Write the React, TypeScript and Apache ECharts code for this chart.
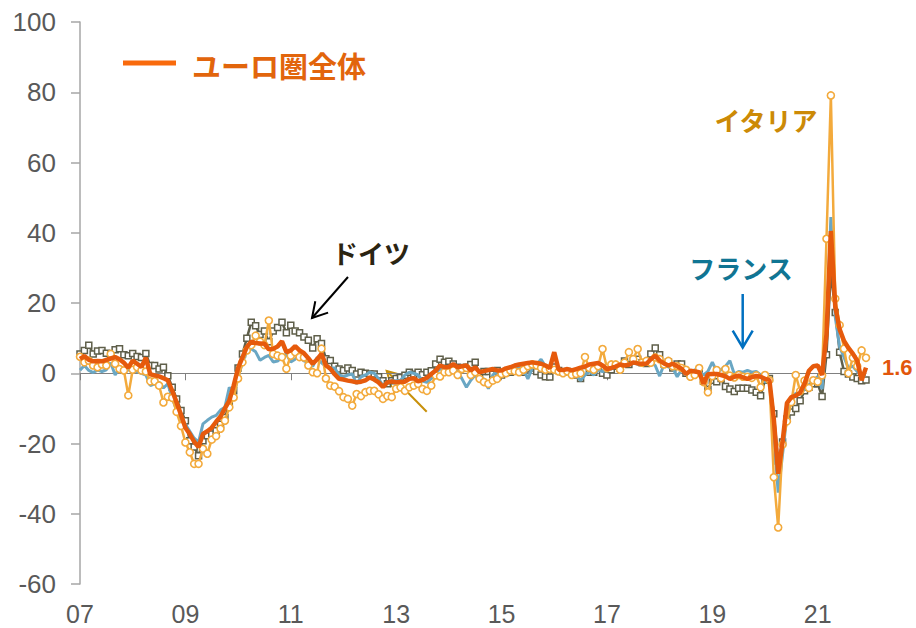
import React, { useEffect, useRef } from "react";
import * as echarts from "echarts";

// Monthly categories Jan 2007 – Dec 2021
const years = ["07","08","09","10","11","12","13","14","15","16","17","18","19","20","21"];
const monthsNum = ["01","02","03","04","05","06","07","08","09","10","11","12"];
const categories: string[] = [];
years.forEach((y) => monthsNum.forEach((m) => categories.push(`${y}/${m}`)));

const yTicks = { min: -60, max: 100, interval: 20 };

// Euro area (ユーロ圏全体)
const euroArea = [
  4.1, 4.9, 3.8, 3.4, 3.5, 3.4, 3.8, 4.2, 4.6, 4.0, 3.0, 1.6,
  3.6, 2.7, 1.8, 4.4, -0.3, -0.6, -0.9, -1.4, -2.0, -5.0, -8.3, -11.8,
  -15.5, -17.3, -19.5, -21.0, -17.3, -16.5, -15.5, -13.8, -12.3, -10.0, -7.8, -3.5,
  1.5, 4.5, 7.5, 9.0, 8.6, 8.5, 8.4, 6.8, 7.0, 7.6, 9.1, 6.0,
  6.5, 7.7, 6.5, 5.7, 4.3, 2.7, 4.0, 5.5, 2.3, 1.3, -0.3, -1.6,
  -1.8, -2.1, -2.3, -2.6, -2.4, -2.0, -1.2, -1.8, -2.6, -3.9, -2.6, -2.3,
  -2.6, -2.4, -2.4, -1.6, -1.4, -2.3, -1.9, -1.3, -0.2, 0.8, 2.2, 1.7,
  1.8, 2.6, 1.7, 2.0, 2.2, 0.8, 1.7, 0.3, 0.6, 0.9, 1.2, 0.8,
  0.8, 1.4, 1.7, 2.2, 2.5, 2.7, 2.9, 3.1, 2.9, 2.7, 2.2, 1.5,
  6.0, 1.0, 0.9, 1.2, 0.8, 1.2, 1.6, 1.9, 2.5, 2.7, 2.9, 2.2,
  1.2, 1.5, 1.9, 2.5, 2.2, 2.4, 3.1, 2.8, 2.7, 2.7, 4.0, 5.0,
  3.6, 2.8, 2.2, 2.7, 2.0, 1.3, -0.2, 0.7, 0.5, 0.3, -3.0, -0.3,
  -0.2, -0.2, -0.5, -0.9, -1.6, -1.0, -0.7, -1.2, -1.6, -1.1, -0.8, -1.0,
  -1.6, -1.9, -13.0, -28.6, -19.5, -8.5, -6.8, -6.4, -5.5, -3.0, 0.7, 2.0,
  2.2, -0.5, 11.0, 40.5, 19.0, 12.5, 9.2, 7.2, 5.6, 3.6, -2.0, 1.6,
];

// Germany (ドイツ)
const germany = [
  5.5, 6.5, 8.0, 5.5, 6.3, 6.5, 5.7, 5.2, 6.7, 7.0, 5.3, 5.0,
  5.6, 4.8, 4.5, 5.6, 2.2, 2.2, 1.2, 1.7, -0.7, -4.0, -7.3, -10.6,
  -13.5, -19.2, -21.0, -23.5, -19.2, -17.8, -17.3, -16.4, -14.5, -12.6, -9.0, -5.0,
  1.5, 5.5, 10.0, 14.5, 13.5, 11.0, 12.0, 9.0, 12.0, 13.0, 14.5, 11.5,
  13.7, 12.0, 11.5, 10.3, 9.4, 7.2, 9.8, 8.5, 4.1, 3.6, 2.0, 1.2,
  0.8, 1.5, 0.8, -0.2, 0.3, 0.0, -0.2, -0.2, -1.0, -2.1, -3.0, -2.1,
  -1.5, -1.2, -0.6, 0.3, -0.3, 0.3, -0.4, 0.3, 0.7, 2.6, 4.0, 3.1,
  3.4, 2.6, 1.7, 1.5, 1.7, 2.5, 3.1, -0.7, 0.5, 0.5, -0.3, 0.8,
  -0.5, 0.2, 0.3, 0.8, 1.5, 0.3, 1.2, 1.5, 0.5, -0.5, -1.0, -1.1,
  1.8, 0.8, 0.3, 0.5, 0.3, -0.5, -1.5, 0.5, 0.3, 0.3, 2.0, 0.0,
  -0.5, 1.0, 2.0, 1.5, 3.5, 2.5, 3.5, 4.0, 3.0, 2.8, 5.5, 7.2,
  5.3, 2.6, 3.2, 1.5, 2.6, 2.6, 0.0, -0.3, 0.0, 0.6, -2.3, -4.6,
  -2.0, -2.4, -1.5, -3.8, -4.5, -5.2, -4.3, -4.3, -4.3, -4.8, -5.4, -6.4,
  -2.0, -1.5, -11.5, -25.0, -19.6, -13.0, -11.0, -10.0, -7.8, -5.0, -4.0, -3.0,
  -3.0, -6.6, 5.3, 29.0, 17.3, 6.0, 0.5, -0.2, -1.1, -1.5, -2.1, -1.9,
];

// France (フランス)
const france = [
  0.9, 2.2, 0.8, 0.2, 0.9, 0.5, 1.0, 3.0, -0.5, 1.5, 0.8, 1.0,
  0.6, 0.5, 0.0, -0.5, -3.5, -3.0, -2.5, -4.2, -3.0, -7.0, -10.5, -13.0,
  -14.5, -16.5, -18.5, -19.6, -14.4, -13.4, -12.5, -12.0, -10.5, -9.7, -4.0, -6.3,
  -1.0, 3.0, 6.5, 7.0, 6.1, 3.7, 4.5, 5.1, 3.2, 3.5, 4.5, 5.5,
  3.2, 4.0, 5.1, 3.5, 3.0, 2.0, 4.5, 3.0, 2.0, 1.5, 1.5, -0.5,
  -1.0, -0.5, -0.2, -3.0, -1.0, -0.5, 0.3, 0.0, -1.6, -3.5, -2.6, -2.1,
  -2.1, -2.0, -0.5, 0.3, 0.0, -0.5, -2.2, -2.6, -1.5, 0.2, 1.2, 1.5,
  1.5, 1.2, 0.5, -1.6, -4.0, -2.0, -0.5, -2.0, -1.5, -4.4, -0.5, 0.5,
  0.2, 0.8, 1.2, 1.5, 1.8, 1.0, -1.6, 1.5, 2.5, 4.0, 2.0, 1.0,
  1.5, 1.0, 0.5, 0.5, 0.0, -0.5, -2.1, -0.5, 0.5, -0.5, 1.0, 0.5,
  1.0, 1.2, 2.0, 1.5, 2.5, 2.7, 3.0, 2.5, 3.2, 2.5, 3.0, 2.2,
  -0.8, 2.5, 1.8, 1.5, -1.0, 1.0, 1.2, 0.3, 1.0, 0.5, -0.5, 0.5,
  3.2, 0.5, 1.0, 2.0, 3.6, -0.2, 0.5, 0.3, 0.8, 0.3, 0.5, -0.5,
  -2.5, -2.0, -17.0, -34.0, -23.0, -12.0, -8.0, -5.7, -6.0, -4.5, -4.0, -2.0,
  -1.0, -4.5, 12.0, 44.5, 16.0, 7.5, 4.5, 1.5, 2.0, 0.5, -0.5, -0.5,
];

// Italy (イタリア)
const italy = [
  4.7, 3.1, 3.6, 2.2, 1.7, 2.5, 2.2, 5.5, 2.7, 1.2, 0.8, -6.3,
  1.0, 1.7, 0.8, 0.5, -2.3, -2.3, -3.5, -8.3, -6.7, -7.0, -11.0, -15.0,
  -19.7, -22.5, -25.8, -25.8, -21.5, -22.9, -18.9, -17.9, -15.8, -13.5, -9.7, -6.9,
  -1.5, 3.1, 6.5, 8.0, 10.7, 9.0, 8.0, 15.0, 5.5, 5.0, 4.6, 1.3,
  5.0, 6.0, 4.6, 4.5, 2.2, 0.3, 0.0, 7.0, -1.5, -3.5, -3.8, -5.1,
  -6.8, -7.3, -9.2, -5.9, -6.5, -5.4, -5.0, -5.0, -6.0, -7.3, -6.5, -6.8,
  -4.4, -4.0, -5.0, -4.0, -3.5, -3.0, -4.5, -5.0, -3.5, -0.6, -0.9, 0.3,
  0.3, 0.8, -0.5, 1.2, 1.5, -0.5, 0.3, -1.6, -2.5, -3.0, -2.1, -1.6,
  -0.2, 0.0, 0.8, 0.6, 0.3, 1.0, 2.0, 2.5, 2.2, 1.5, 1.0, 1.2,
  1.0, 0.5, 0.0, 0.5, -0.5, -0.2, 0.0, 4.6, 1.5, 1.0, 2.0, 6.9,
  1.5, 2.5, 2.5, 1.0, 3.0, 6.0, 4.0, 6.9, 3.0, 3.5, 3.0, 4.5,
  4.0, 2.5, 3.5, 2.0, 2.0, 1.5, 1.0, -1.0, -0.5, 1.5, -2.5, -5.4,
  -0.8, 0.9, -1.4, 1.2, -0.7, -1.2, -0.5, -1.0, -1.0, -1.3, -0.6, -4.0,
  -0.5, -2.0, -29.6, -43.9, -20.3, -13.7, -8.2, -0.5, -5.1, -2.1, -4.2, -2.0,
  -2.4, -0.6, 38.3, 79.1, 21.2, 13.7, 7.0, 0.0, 4.4, 2.0, 6.5, 4.4,
];

const NUM_FONT = "Arial, 'Liberation Sans', sans-serif";
const JP_FONT = "'Noto Sans CJK JP', sans-serif";

export default function App() {
  const ref = useRef<HTMLDivElement>(null);

  useEffect(() => {
    document.body.style.margin = "0";
    if (!ref.current) return;
    const chart = echarts.init(ref.current, undefined, { renderer: "svg" });

    const tickEvery2y = (index: number) => index % 24 === 0;

    chart.setOption({
      animation: false,
      grid: { left: 80, right: 50, top: 22, bottom: 44, containLabel: false },
      xAxis: [
        {
          type: "category",
          data: categories,
          boundaryGap: false,
          position: "bottom",
          axisLine: { show: false, onZero: false },
          axisTick: { show: false },
          axisLabel: {
            interval: tickEvery2y,
            formatter: (v: string) => v.slice(0, 2),
            fontFamily: NUM_FONT,
            fontSize: 25,
            lineHeight: 25,
            color: "#595959",
            margin: 17,
          },
          splitLine: { show: false },
        },
        {
          type: "category",
          data: categories,
          boundaryGap: false,
          position: "bottom",
          axisLine: { show: true, onZero: true, onZeroAxisIndex: 0, lineStyle: { color: "#808080", width: 1 } },
          axisTick: { show: true, interval: tickEvery2y, length: 7, lineStyle: { color: "#808080", width: 1 } },
          axisLabel: { show: false },
          splitLine: { show: false },
        },
      ],
      yAxis: {
        type: "value",
        min: yTicks.min,
        max: yTicks.max,
        interval: yTicks.interval,
        axisLine: { show: true, lineStyle: { color: "#a6a6a6", width: 1.5 } },
        axisTick: { show: true, length: 9, lineStyle: { color: "#a6a6a6", width: 1.5 } },
        axisLabel: { fontFamily: NUM_FONT, fontSize: 26, color: "#595959", margin: 24 },
        splitLine: { show: false },
      },
      series: [
        {
          name: "ドイツ",
          type: "line",
          data: germany,
          showSymbol: true,
          showAllSymbol: true,
          symbol: "rect",
          symbolSize: 6,
          lineStyle: { color: "#5f5f4a", width: 2.5 },
          itemStyle: { color: "#ffffff", borderColor: "#5f5f4a", borderWidth: 1.5 },
          z: 2,
        },
        {
          name: "フランス",
          type: "line",
          data: france,
          showSymbol: false,
          lineStyle: { color: "#6aa7c4", width: 3 },
          itemStyle: { color: "#6aa7c4" },
          z: 3,
        },
        {
          name: "イタリア",
          type: "line",
          data: italy,
          showSymbol: true,
          showAllSymbol: true,
          symbol: "circle",
          symbolSize: 7,
          lineStyle: { color: "#f3aa3c", width: 2.5 },
          itemStyle: { color: "#ffffff", borderColor: "#f3aa3c", borderWidth: 1.6 },
          z: 4,
        },
        {
          name: "ユーロ圏全体",
          type: "line",
          data: euroArea,
          showSymbol: false,
          lineStyle: { color: "#e65a0c", width: 4.5 },
          itemStyle: { color: "#e65a0c" },
          z: 5,
          endLabel: {
            show: true,
            formatter: (p: any) => String(p.value),
            distance: 16,
            fontFamily: NUM_FONT,
            fontSize: 22,
            fontWeight: "bold",
            color: "#e2560c",
          },
        },
      ],
      graphic: [
        { type: "line", shape: { x1: 123, y1: 63, x2: 176, y2: 63 }, style: { stroke: "#f96a0c", lineWidth: 5 } },
        {
          type: "text", x: 192, y: 65,
          style: { text: "ユーロ圏全体", fontFamily: JP_FONT, fontWeight: "bold", fontSize: 29, fill: "#e2650c", align: "left", verticalAlign: "middle" },
        },
        {
          type: "text", x: 371, y: 252,
          style: { text: "ドイツ", fontFamily: JP_FONT, fontWeight: "bold", fontSize: 26, fill: "#2b2411", align: "center", verticalAlign: "middle" },
        },
        { type: "line", shape: { x1: 348, y1: 277, x2: 312, y2: 318 }, style: { stroke: "#000000", lineWidth: 2 } },
        { type: "polyline", shape: { points: [[315.3, 301.3], [312, 318], [328.1, 312.6]] }, style: { stroke: "#000000", lineWidth: 2, fill: "none" } },
        {
          type: "text", x: 766, y: 119,
          style: { text: "イタリア", fontFamily: JP_FONT, fontWeight: "bold", fontSize: 26, fill: "#cc8a06", align: "center", verticalAlign: "middle" },
        },
        {
          type: "text", x: 741, y: 267,
          style: { text: "フランス", fontFamily: JP_FONT, fontWeight: "bold", fontSize: 26, fill: "#107593", align: "center", verticalAlign: "middle" },
        },
        { type: "line", shape: { x1: 742.7, y1: 294, x2: 742.7, y2: 347 }, style: { stroke: "#0070c0", lineWidth: 2.5 } },
        { type: "polyline", shape: { points: [[732.7, 330.7], [742.7, 347.5], [752.7, 330.7]] }, style: { stroke: "#0070c0", lineWidth: 2.5, fill: "none" } },
        { type: "line", shape: { x1: 426.7, y1: 411.7, x2: 386.7, y2: 371 }, style: { stroke: "#c8900a", lineWidth: 2 } },
        { type: "polyline", shape: { points: [[391.5, 387.2], [386.7, 371], [403, 375.5]] }, style: { stroke: "#c8900a", lineWidth: 2, fill: "none" } },
      ],
    });

    return () => chart.dispose();
  }, []);

  return <div ref={ref} style={{ width: 916, height: 628 }} />;
}
